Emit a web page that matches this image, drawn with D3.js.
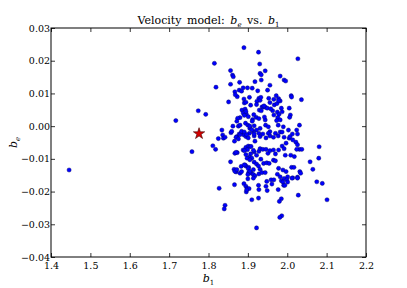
<!DOCTYPE html>
<html><head><meta charset="utf-8">
<script src="https://cdn.jsdelivr.net/npm/d3@7"></script>
<style>body{margin:0;background:#fff}svg{display:block}svg text{font-family:"DejaVu Serif","Liberation Serif",serif !important}</style>
</head><body><svg id="c" width="407" height="288"></svg>
<script>
const xTicks = [1.4,1.5,1.6,1.7,1.8,1.9,2.0,2.1,2.2];
const yTicks = [-0.04,-0.03,-0.02,-0.01,0.00,0.01,0.02,0.03];
const bestB1 = [1.776];
const bestBe = [-0.0023];
const b1 = [
1.446,1.717,1.774,1.793,1.758,1.811,1.818,1.825,1.827,
1.890,1.927,2.027,1.815,1.930,1.856,1.944,1.861,1.863,1.931,1.934,1.982,1.992,1.996,1.879,1.918,1.934,1.856,1.956,1.819,1.888,1.899,1.878,1.884,1.867,1.911,1.925,1.950,1.904,1.873,1.868,1.890,1.928,1.953,1.972,1.966,1.978,2.010,2.011,2.036,1.851,1.891,1.895,1.907,1.923,1.931,1.936,1.939,1.944,1.949,1.941,1.956,1.967,1.974,1.982,1.885,1.893,1.929,1.934,1.963,1.975,1.979,1.987,2.005,1.896,1.880,1.874,1.901,1.912,1.921,1.928,1.944,1.942,1.966,1.976,1.973,1.982,2.008,2.031,2.024,1.862,1.876,1.880,1.894,1.900,1.905,1.916,1.922,1.931,1.945,1.952,1.956,1.977,1.990,2.003,2.013,2.005,1.834,1.836,
1.933,1.978,2.026,2.006,1.922,1.958,1.985,
1.838,1.842,1.857,1.872,1.878,1.884,1.890,1.895,1.904,1.914,1.916,1.928,1.931,1.938,1.946,1.952,1.956,1.965,1.970,1.977,1.982,1.987,1.992,1.997,2.007,2.014,2.022,2.026,2.031,2.037,2.024,1.867,1.873,1.888,1.895,1.901,1.905,1.907,1.904,1.898,1.910,1.916,1.922,1.928,1.931,1.938,1.946,1.951,1.956,1.965,1.970,1.978,1.987,1.992,1.995,2.009,2.018,1.856,1.865,1.870,1.880,1.884,1.893,1.895,1.902,1.916,1.922,1.927,1.933,1.940,1.948,1.954,1.965,1.970,1.978,1.989,1.997,2.011,2.017,1.902,1.909,1.914,1.918,1.928,1.936,1.944,1.931,1.975,1.982,1.992,2.001,2.014,2.026,2.032,2.034,2.058,2.065,2.075,2.080,2.081,
1.888,1.891,1.895,1.872,1.859,1.870,1.876,1.866,1.880,1.884,1.891,1.897,1.901,1.905,1.911,1.915,1.910,1.916,1.918,1.908,1.899,1.891,1.914,1.895,1.905,1.870,1.883,1.891,1.901,1.905,1.914,1.914,1.867,1.872,1.900,
1.900,1.866,1.890,1.895,1.898,1.903,1.896,1.897,1.910,1.842,1.840,1.927,1.928,1.946,1.949,1.948,1.961,1.959,1.966,1.977,1.985,1.989,1.991,1.994,1.999,2.001,2.012,2.026,2.089,2.028,2.101,1.927,1.985,1.980,1.986,1.981,1.922
];
const be = [
-0.0134,0.0017,0.0047,0.0036,-0.0078,-0.0060,-0.0071,-0.0038,-0.0190,
0.0240,0.0226,0.0206,0.0192,0.0190,0.0170,0.0169,0.0156,0.0151,0.0161,0.0157,0.0153,0.0141,0.0138,0.0134,0.0136,0.0141,0.0128,0.0125,0.0119,0.0117,0.0117,0.0110,0.0107,0.0105,0.0116,0.0108,0.0110,0.0088,0.0090,0.0096,0.0083,0.0085,0.0085,0.0093,0.0082,0.0084,0.0093,0.0089,0.0081,0.0074,0.0071,0.0073,0.0064,0.0076,0.0079,0.0059,0.0058,0.0058,0.0055,0.0062,0.0072,0.0065,0.0069,0.0077,0.0049,0.0052,0.0049,0.0047,0.0047,0.0043,0.0036,0.0044,0.0055,0.0037,0.0026,0.0024,0.0029,0.0020,0.0027,0.0023,0.0019,0.0028,0.0034,0.0026,0.0017,0.0019,0.0034,0.0003,-0.0012,0.0000,0.0000,0.0003,0.0009,0.0003,-0.0007,0.0001,-0.0012,-0.0007,0.0003,-0.0002,-0.0017,0.0003,-0.0002,-0.0012,-0.0024,-0.0037,-0.0012,-0.0027,
0.0088,0.0078,-0.0024,0.0027,0.0066,0.0053,0.0055,
-0.0037,-0.0034,-0.0020,-0.0032,-0.0024,-0.0020,-0.0027,-0.0032,-0.0022,-0.0017,-0.0030,-0.0022,-0.0032,-0.0024,-0.0036,-0.0022,-0.0030,-0.0034,-0.0022,-0.0030,-0.0018,-0.0018,-0.0034,-0.0052,-0.0032,-0.0042,-0.0049,-0.0057,-0.0071,-0.0071,-0.0071,-0.0083,-0.0081,-0.0073,-0.0065,-0.0061,-0.0063,-0.0085,-0.0095,-0.0098,-0.0098,-0.0079,-0.0089,-0.0077,-0.0069,-0.0071,-0.0071,-0.0083,-0.0075,-0.0073,-0.0085,-0.0073,-0.0061,-0.0069,-0.0089,-0.0089,-0.0093,-0.0109,-0.0132,-0.0140,-0.0144,-0.0139,-0.0119,-0.0122,-0.0126,-0.0110,-0.0116,-0.0122,-0.0101,-0.0114,-0.0112,-0.0114,-0.0104,-0.0106,-0.0129,-0.0134,-0.0139,-0.0126,-0.0126,-0.0142,-0.0144,-0.0148,-0.0152,-0.0146,-0.0142,-0.0142,-0.0132,-0.0147,-0.0155,-0.0160,-0.0155,-0.0158,-0.0156,-0.0139,-0.0144,-0.0109,-0.0132,-0.0170,-0.0098,-0.0063,
0.0040,0.0033,0.0045,0.0015,-0.0016,-0.0034,-0.0039,-0.0046,-0.0026,-0.0016,-0.0018,-0.0026,-0.0036,0.0000,0.0015,0.0035,-0.0011,-0.0024,-0.0046,-0.0062,-0.0072,-0.0075,-0.0074,-0.0087,-0.0103,-0.0080,-0.0123,-0.0118,-0.0130,-0.0138,-0.0133,-0.0159,-0.0138,-0.0133,-0.0148,
-0.0161,-0.0179,-0.0176,-0.0184,-0.0191,-0.0191,-0.0201,-0.0195,-0.0225,-0.0242,-0.0253,-0.0181,-0.0194,-0.0184,-0.0197,-0.0169,-0.0177,-0.0164,-0.0164,-0.0194,-0.0167,-0.0171,-0.0181,-0.0181,-0.0164,-0.0171,-0.0159,-0.0159,-0.0175,-0.0211,-0.0225,-0.0220,-0.0222,-0.0230,-0.0274,-0.0279,-0.0311
];

const svg = d3.select("#c");
const L = 51, R = 366, T = 28, B = 257;
const x = d3.scaleLinear().domain([1.4, 2.2]).range([L, R]);
const y = d3.scaleLinear().domain([-0.04, 0.03]).range([B, T]);
const fx = d3.format(".1f"), fy = d3.format(".2f");

const gx = svg.append("g").attr("transform", `translate(0,${B})`)
  .call(d3.axisBottom(x).tickValues(xTicks).tickFormat(fx).tickSizeInner(-4).tickSizeOuter(0).tickPadding(5));
const gxt = svg.append("g").attr("transform", `translate(0,${T})`)
  .call(d3.axisTop(x).tickValues(xTicks).tickFormat("").tickSizeInner(-4).tickSizeOuter(0));
const gy = svg.append("g").attr("transform", `translate(${L},0)`)
  .call(d3.axisLeft(y).tickValues(yTicks).tickFormat(fy).tickSizeInner(-4).tickSizeOuter(0).tickPadding(1));
const gyr = svg.append("g").attr("transform", `translate(${R},0)`)
  .call(d3.axisRight(y).tickValues(yTicks).tickFormat("").tickSizeInner(-4).tickSizeOuter(0));
[gx,gxt,gy,gyr].forEach(g => {
  g.attr("font-family", null);
  g.select(".domain").remove();
  g.selectAll("line").attr("stroke","#000").attr("stroke-width",0.8);
  g.selectAll("text").attr("fill","#000").style("font-size","9.5px");
});

const pts = b1.map((v,i)=>({x:v,y:be[i]}));
svg.append("g").selectAll("circle").data(pts).join("circle")
  .attr("cx", d=>x(d.x)).attr("cy", d=>y(d.y)).attr("r", 2.1)
  .attr("fill", "#0000ff").attr("stroke", "#00005a").attr("stroke-width", 0.4);

svg.append("g").selectAll("path").data(bestB1.map((v,i)=>({x:v,y:bestBe[i]}))).join("path")
  .attr("d", d3.symbol().type(d3.symbolStar).size(40))
  .attr("transform", d=>`translate(${x(d.x)},${y(d.y)})`)
  .attr("fill", "#d40000").attr("stroke", "#400000").attr("stroke-width", 0.6);

svg.append("rect").attr("x",L).attr("y",T).attr("width",R-L).attr("height",B-T)
  .attr("fill","none").attr("stroke","#000").attr("stroke-width",1);

const t = svg.append("text").attr("x",(L+R)/2).attr("y",24).attr("text-anchor","middle")
  .style("font-size","11px").attr("fill","#000");
t.append("tspan").text("Velocity\u2002model:\u2002");
t.append("tspan").style("font-style","italic").text("b");
t.append("tspan").attr("dy",2.5).style("font-size","7px").style("font-style","italic").text("e");
t.append("tspan").attr("dy",-2.5).text("\u2002vs.\u2002");
t.append("tspan").style("font-style","italic").text("b");
t.append("tspan").attr("dy",2.5).style("font-size","7px").text("1");

const xl = svg.append("text").attr("x",(L+R)/2).attr("y",282).attr("text-anchor","middle")
  .style("font-size","11px").attr("fill","#000");
xl.append("tspan").style("font-style","italic").text("b");
xl.append("tspan").attr("dy",2.5).style("font-size","7px").text("1");

const yl = svg.append("text").attr("transform",`translate(17,${(T+B)/2}) rotate(-90)`).attr("text-anchor","middle")
  .style("font-size","11px").attr("fill","#000");
yl.append("tspan").style("font-style","italic").text("b");
yl.append("tspan").attr("dy",2.5).style("font-size","7px").style("font-style","italic").text("e");
</script></body></html>
